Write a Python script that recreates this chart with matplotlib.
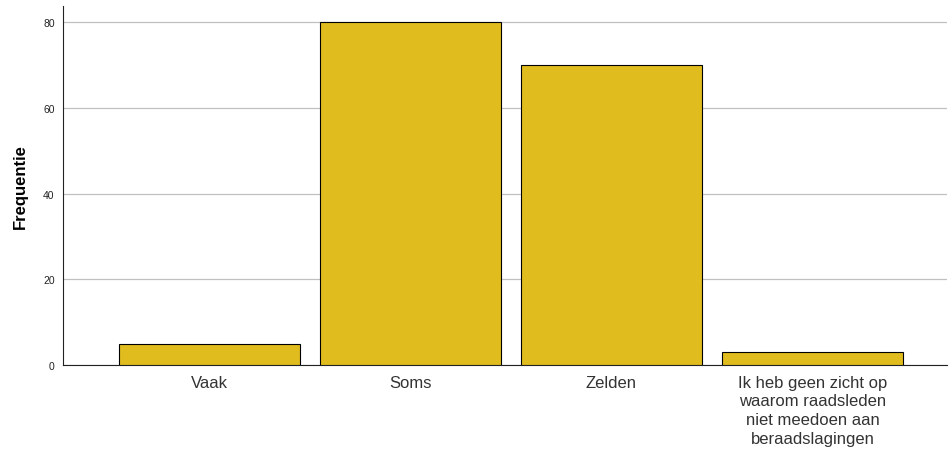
import matplotlib.pyplot as plt

plt.rcParams['font.family'] = ['Liberation Sans', 'DejaVu Sans']

categories = ['Vaak', 'Soms', 'Zelden',
              'Ik heb geen zicht op\nwaarom raadsleden\nniet meedoen aan\nberaadslagingen']
counts = [5, 80, 70, 3]
y_ticks = [0, 20, 40, 60, 80]

fig = plt.figure(figsize=(9.49, 4.52), dpi=100)
ax = fig.add_axes([0.0664, 0.190, 0.9315, 0.7945])

x = range(len(categories))
ax.bar(x, counts, width=0.9, color='#E0BC1F', edgecolor='black', linewidth=0.8, zorder=3)

ax.set_xlim(-0.73, 3.67)
ax.set_ylim(0, 83.7)
ax.set_yticks(y_ticks)
ax.set_yticklabels([str(t) for t in y_ticks], fontsize=7.5, color='#222222')
ax.set_xticks(list(x))
ax.set_xticklabels(categories, fontsize=12, color='#333333', linespacing=1.3, va='top')
ax.tick_params(axis='both', length=0)
ax.tick_params(axis='x', pad=7)
ax.tick_params(axis='y', pad=6)

ax.yaxis.grid(True, color='#c0c0c0', linewidth=0.9, zorder=0)
ax.set_axisbelow(True)
for side in ['top', 'right']:
    ax.spines[side].set_visible(False)
ax.spines['left'].set_color('#222222')
ax.spines['bottom'].set_color('#222222')

ax.set_ylabel('Frequentie', fontsize=12, fontweight='bold', labelpad=11)

fig.savefig('out.png', dpi=100)
